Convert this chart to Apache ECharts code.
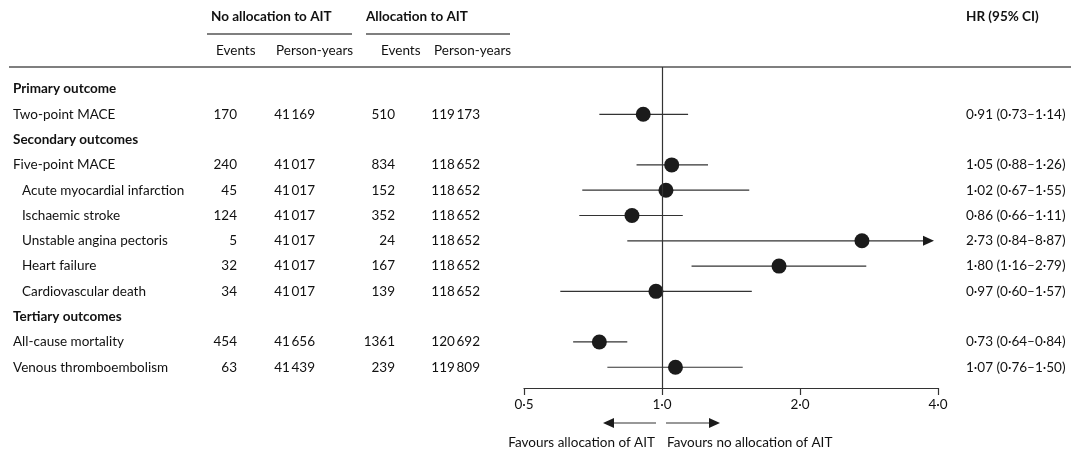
<!DOCTYPE html>
<html>
<head>
<meta charset="utf-8">
<script src="https://cdn.jsdelivr.net/npm/echarts@6/dist/echarts.min.js"></script>
<style>
  html, body { margin: 0; padding: 0; background: #fff; }
  #chart { width: 1080px; height: 456px; }
</style>
</head>
<body>
<div id="chart"></div>
<script>
// rows of the forest plot, top to bottom
const outcomes = [
    'Primary outcome', 'Two-point MACE',
    'Secondary outcomes', 'Five-point MACE', 'Acute myocardial infarction', 'Ischaemic stroke',
    'Unstable angina pectoris', 'Heart failure', 'Cardiovascular death',
    'Tertiary outcomes', 'All-cause mortality', 'Venous thromboembolism'
];
const rowKind = ['head', 'main', 'head', 'main', 'sub', 'sub', 'sub', 'sub', 'sub', 'head', 'main', 'main'];

const noAitEvents = [null, 170, null, 240, 45, 124, 5, 32, 34, null, 454, 63];
const noAitPersonYears = [null, 41169, null, 41017, 41017, 41017, 41017, 41017, 41017, null, 41656, 41439];
const aitEvents = [null, 510, null, 834, 152, 352, 24, 167, 139, null, 1361, 239];
const aitPersonYears = [null, 119173, null, 118652, 118652, 118652, 118652, 118652, 118652, null, 120692, 119809];

const hr = [null, 0.91, null, 1.05, 1.02, 0.86, 2.73, 1.80, 0.97, null, 0.73, 1.07];
const ciLow = [null, 0.73, null, 0.88, 0.67, 0.66, 0.84, 1.16, 0.60, null, 0.64, 0.76];
const ciHigh = [null, 1.14, null, 1.26, 1.55, 1.11, 8.87, 2.79, 1.57, null, 0.84, 1.50];

const xTicks = [0.5, 1, 2, 4];

const FONT = 'Lato';
const INK = '#111';
const LINE = '#333';

// lancet style: middle dot decimals, thin space in 5+ digit numbers
const dec = (v, n) => v.toFixed(n).replace('.', '\u00b7');
const big = v => v >= 10000 ? String(v).replace(/(\d)(?=(\d{3})+$)/g, '$1\u2009') : String(v);

// text cells of the table (x = column anchor in px)
const cells = [];
outcomes.forEach((name, i) => {
    const kind = rowKind[i];
    cells.push({x: kind === 'sub' ? 22 : 13, row: i, text: name, align: 'left', bold: kind === 'head'});
    if (kind === 'head') return;
    cells.push({x: 237, row: i, text: String(noAitEvents[i]), align: 'right'});
    cells.push({x: 315, row: i, text: big(noAitPersonYears[i]), align: 'right'});
    cells.push({x: 395, row: i, text: String(aitEvents[i]), align: 'right'});
    cells.push({x: 480, row: i, text: big(aitPersonYears[i]), align: 'right'});
    cells.push({x: 966, row: i, text: dec(hr[i], 2) + ' (' + dec(ciLow[i], 2) + '\u2013' + dec(ciHigh[i], 2) + ')', align: 'left'});
});

const ciRows = [];
const points = [];
hr.forEach((v, i) => {
    if (v == null) return;
    ciRows.push([ciLow[i], ciHigh[i], i]);
    points.push([v, i]);
});

const X_MIN = xTicks[0], X_MAX = xTicks[xTicks.length - 1];
const Y_MIN = -0.87, Y_MAX = 11.82;

const chart = echarts.init(document.getElementById('chart'));

const textStyle = (bold) => ({
    font: (bold ? 'bold ' : '') + '13.5px ' + FONT,
    fill: INK
});

chart.setOption({
    animation: false,
    grid: [
        {left: 524, right: 142, top: 67, bottom: 68},
        {left: 0, right: 0, top: 67, bottom: 68}
    ],
    xAxis: [
        {
            type: 'log', logBase: 2, min: X_MIN, max: X_MAX, gridIndex: 0,
            position: 'bottom',
            axisLine: {onZero: false, lineStyle: {color: LINE, width: 1.2}},
            axisTick: {length: 7, lineStyle: {color: LINE, width: 1.2}},
            axisLabel: {
                fontFamily: FONT, fontSize: 13.5, color: INK, margin: 10,
                formatter: v => dec(v, 1)
            },
            splitLine: {show: false},
            minorTick: {show: false}
        },
        {type: 'value', min: 0, max: 1080, gridIndex: 1, show: false}
    ],
    yAxis: [
        {type: 'value', min: Y_MIN, max: Y_MAX, inverse: true, gridIndex: 0, show: false},
        {type: 'value', min: Y_MIN, max: Y_MAX, inverse: true, gridIndex: 1, show: false}
    ],
    series: [
        {
            // confidence intervals, with arrow when beyond the axis
            type: 'custom',
            xAxisIndex: 0, yAxisIndex: 0,
            data: ciRows,
            clip: false,
            renderItem: (params, api) => {
                const lo = api.value(0), hi = api.value(1), row = api.value(2);
                const a = api.coord([lo, row]);
                const over = hi > X_MAX;
                const b = api.coord([over ? X_MAX : hi, row]);
                const children = [];
                if (over) {
                    const tip = b[0] - 4;
                    children.push({
                        type: 'line',
                        shape: {x1: a[0], y1: a[1], x2: tip - 8, y2: a[1]},
                        style: {stroke: LINE, lineWidth: 1.2}
                    });
                    children.push({
                        type: 'polygon',
                        shape: {points: [[tip, a[1]], [tip - 11, a[1] - 5], [tip - 11, a[1] + 5]]},
                        style: {fill: '#1b1b1b'}
                    });
                } else {
                    children.push({
                        type: 'line',
                        shape: {x1: a[0], y1: a[1], x2: b[0], y2: a[1]},
                        style: {stroke: LINE, lineWidth: 1.2}
                    });
                }
                return {type: 'group', children};
            },
            markLine: {
                silent: true,
                symbol: 'none',
                label: {show: false},
                lineStyle: {color: LINE, width: 1.2, type: 'solid'},
                data: [{xAxis: 1}]
            },
            z: 2
        },
        {
            type: 'scatter',
            xAxisIndex: 0, yAxisIndex: 0,
            data: points,
            symbolSize: 15,
            itemStyle: {color: '#1b1b1b', opacity: 1},
            z: 3
        },
        {
            // table text
            type: 'custom',
            xAxisIndex: 1, yAxisIndex: 1,
            data: cells.map(c => [c.x, c.row]),
            clip: false,
            silent: true,
            renderItem: (params, api) => {
                const c = cells[params.dataIndex];
                const p = api.coord([c.x, c.row]);
                return {
                    type: 'text',
                    x: p[0], y: p[1],
                    style: Object.assign({
                        text: c.text,
                        textAlign: c.align,
                        textVerticalAlign: 'middle'
                    }, textStyle(c.bold))
                };
            }
        }
    ],
    graphic: [
        // column headers
        {type: 'text', x: 211, y: 17, style: Object.assign({text: 'No allocation to AIT', textVerticalAlign: 'middle'}, textStyle(true))},
        {type: 'line', shape: {x1: 207, y1: 34, x2: 352, y2: 34}, style: {stroke: '#555', lineWidth: 1.4}},
        {type: 'text', x: 366, y: 17, style: Object.assign({text: 'Allocation to AIT', textVerticalAlign: 'middle'}, textStyle(true))},
        {type: 'line', shape: {x1: 366, y1: 34, x2: 510, y2: 34}, style: {stroke: '#555', lineWidth: 1.4}},
        {type: 'text', x: 216, y: 51, style: Object.assign({text: 'Events', textVerticalAlign: 'middle'}, textStyle(false))},
        {type: 'text', x: 276, y: 51, style: Object.assign({text: 'Person-years', textVerticalAlign: 'middle'}, textStyle(false))},
        {type: 'text', x: 381, y: 51, style: Object.assign({text: 'Events', textVerticalAlign: 'middle'}, textStyle(false))},
        {type: 'text', x: 434, y: 51, style: Object.assign({text: 'Person-years', textVerticalAlign: 'middle'}, textStyle(false))},
        {type: 'text', x: 966, y: 17, style: Object.assign({text: 'HR (95% CI)', textVerticalAlign: 'middle'}, textStyle(true))},
        {type: 'line', shape: {x1: 9, y1: 67, x2: 1071, y2: 67}, style: {stroke: '#555', lineWidth: 1.4}},

        // favours arrows
        {type: 'line', shape: {x1: 612, y1: 423, x2: 656, y2: 423}, style: {stroke: LINE, lineWidth: 1.2}},
        {type: 'polygon', shape: {points: [[603, 423], [614, 418], [614, 428]]}, style: {fill: '#1b1b1b'}},
        {type: 'line', shape: {x1: 666, y1: 423, x2: 711, y2: 423}, style: {stroke: LINE, lineWidth: 1.2}},
        {type: 'polygon', shape: {points: [[720, 423], [709, 418], [709, 428]]}, style: {fill: '#1b1b1b'}},
        {type: 'text', x: 655, y: 443, style: Object.assign({text: 'Favours allocation of AIT', textAlign: 'right', textVerticalAlign: 'middle'}, textStyle(false))},
        {type: 'text', x: 667, y: 443, style: Object.assign({text: 'Favours no allocation of AIT', textAlign: 'left', textVerticalAlign: 'middle'}, textStyle(false))}
    ]
});
</script>
</body>
</html>
